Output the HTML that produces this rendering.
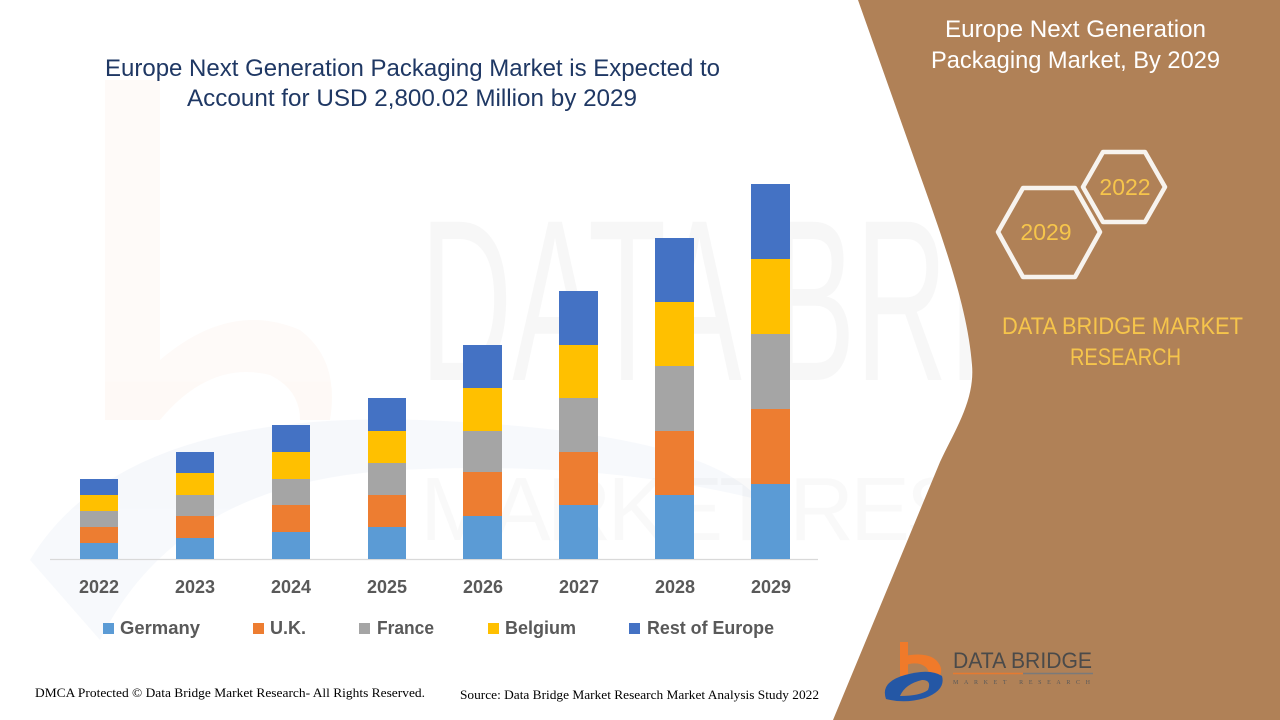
<!DOCTYPE html>
<html>
<head>
<meta charset="utf-8">
<style>
html,body{margin:0;padding:0;background:#fff;}
svg{display:block;}
</style>
</head>
<body>
<svg width="1280" height="720" viewBox="0 0 1280 720" xmlns="http://www.w3.org/2000/svg">
  <rect x="0" y="0" width="1280" height="720" fill="#ffffff"/>

  <!-- faint watermark -->
  <g opacity="0.035">
    <path d="M105 80 L160 80 L160 360 Q230 300 300 330 Q340 360 330 420 L300 420 Q300 390 270 375 Q210 360 160 420 L105 420 Z" fill="#ED7D31"/>
    <path d="M30 560 Q120 410 420 420 Q700 430 760 500 Q600 460 400 470 Q180 480 100 640 Z" fill="#2457A5"/>
  </g>
  <text x="420" y="380" font-family="Liberation Sans, sans-serif" font-size="230" fill="#000" opacity="0.028" textLength="840" lengthAdjust="spacingAndGlyphs">DATA BRIDGE</text>
  <text x="420" y="540" font-family="Liberation Sans, sans-serif" font-size="90" fill="#000" opacity="0.02" textLength="840" lengthAdjust="spacing">MARKET RESEARCH</text>

  <!-- brown panel -->
  <path d="M858,0 L920,175 C945,245 968,310 972,365 C975,400 955,430 940,462 L833,720 L1280,720 L1280,0 Z" fill="#B08157"/>

  <!-- main title -->
  <g font-family="Liberation Sans, sans-serif" fill="#1F3864" font-size="24">
    <text x="105" y="76" textLength="615" lengthAdjust="spacingAndGlyphs">Europe Next Generation Packaging Market is Expected to</text>
    <text x="187" y="106" textLength="450" lengthAdjust="spacingAndGlyphs">Account for USD 2,800.02 Million by 2029</text>
  </g>

  <!-- axis line -->
  <line x1="50" y1="559.5" x2="818" y2="559.5" stroke="#D9D9D9" stroke-width="1.2"/>

  <!-- bars -->
  <g>
    <rect x="80" y="543" width="38" height="16" fill="#5B9BD5"/>
    <rect x="80" y="527" width="38" height="16" fill="#ED7D31"/>
    <rect x="80" y="511" width="38" height="16" fill="#A5A5A5"/>
    <rect x="80" y="495" width="38" height="16" fill="#FFC000"/>
    <rect x="80" y="479" width="38" height="16" fill="#4472C4"/>

    <rect x="176" y="538" width="38" height="21" fill="#5B9BD5"/>
    <rect x="176" y="516" width="38" height="22" fill="#ED7D31"/>
    <rect x="176" y="495" width="38" height="21" fill="#A5A5A5"/>
    <rect x="176" y="473" width="38" height="22" fill="#FFC000"/>
    <rect x="176" y="452" width="38" height="21" fill="#4472C4"/>

    <rect x="272" y="532" width="38" height="27" fill="#5B9BD5"/>
    <rect x="272" y="505" width="38" height="27" fill="#ED7D31"/>
    <rect x="272" y="479" width="38" height="26" fill="#A5A5A5"/>
    <rect x="272" y="452" width="38" height="27" fill="#FFC000"/>
    <rect x="272" y="425" width="38" height="27" fill="#4472C4"/>

    <rect x="368" y="527" width="38" height="32" fill="#5B9BD5"/>
    <rect x="368" y="495" width="38" height="32" fill="#ED7D31"/>
    <rect x="368" y="463" width="38" height="32" fill="#A5A5A5"/>
    <rect x="368" y="431" width="38" height="32" fill="#FFC000"/>
    <rect x="368" y="398" width="38" height="33" fill="#4472C4"/>

    <rect x="463" y="516" width="39" height="43" fill="#5B9BD5"/>
    <rect x="463" y="472" width="39" height="44" fill="#ED7D31"/>
    <rect x="463" y="431" width="39" height="41" fill="#A5A5A5"/>
    <rect x="463" y="388" width="39" height="43" fill="#FFC000"/>
    <rect x="463" y="345" width="39" height="43" fill="#4472C4"/>

    <rect x="559" y="505" width="39" height="54" fill="#5B9BD5"/>
    <rect x="559" y="452" width="39" height="53" fill="#ED7D31"/>
    <rect x="559" y="398" width="39" height="54" fill="#A5A5A5"/>
    <rect x="559" y="345" width="39" height="53" fill="#FFC000"/>
    <rect x="559" y="291" width="39" height="54" fill="#4472C4"/>

    <rect x="655" y="495" width="39" height="64" fill="#5B9BD5"/>
    <rect x="655" y="431" width="39" height="64" fill="#ED7D31"/>
    <rect x="655" y="366" width="39" height="65" fill="#A5A5A5"/>
    <rect x="655" y="302" width="39" height="64" fill="#FFC000"/>
    <rect x="655" y="238" width="39" height="64" fill="#4472C4"/>

    <rect x="751" y="484" width="39" height="75" fill="#5B9BD5"/>
    <rect x="751" y="409" width="39" height="75" fill="#ED7D31"/>
    <rect x="751" y="334" width="39" height="75" fill="#A5A5A5"/>
    <rect x="751" y="259" width="39" height="75" fill="#FFC000"/>
    <rect x="751" y="184" width="39" height="75" fill="#4472C4"/>
  </g>

  <!-- year labels -->
  <g font-family="Liberation Sans, sans-serif" font-weight="bold" font-size="18" fill="#595959" text-anchor="middle">
    <text x="99" y="593">2022</text>
    <text x="195" y="593">2023</text>
    <text x="291" y="593">2024</text>
    <text x="387" y="593">2025</text>
    <text x="483" y="593">2026</text>
    <text x="579" y="593">2027</text>
    <text x="675" y="593">2028</text>
    <text x="771" y="593">2029</text>
  </g>

  <!-- legend -->
  <g font-family="Liberation Sans, sans-serif" font-weight="bold" font-size="18" fill="#595959">
    <rect x="103" y="623" width="11" height="11" fill="#5B9BD5"/>
    <text x="120" y="634" textLength="80" lengthAdjust="spacingAndGlyphs">Germany</text>
    <rect x="253" y="623" width="11" height="11" fill="#ED7D31"/>
    <text x="270" y="634" textLength="36" lengthAdjust="spacingAndGlyphs">U.K.</text>
    <rect x="359" y="623" width="11" height="11" fill="#A5A5A5"/>
    <text x="377" y="634" textLength="57" lengthAdjust="spacingAndGlyphs">France</text>
    <rect x="488" y="623" width="11" height="11" fill="#FFC000"/>
    <text x="505" y="634" textLength="71" lengthAdjust="spacingAndGlyphs">Belgium</text>
    <rect x="629" y="623" width="11" height="11" fill="#4472C4"/>
    <text x="647" y="634" textLength="127" lengthAdjust="spacingAndGlyphs">Rest of Europe</text>
  </g>

  <!-- footer -->
  <g font-family="Liberation Serif, serif" font-size="13" fill="#000">
    <text x="35" y="697" textLength="390" lengthAdjust="spacingAndGlyphs">DMCA Protected © Data Bridge Market Research- All Rights Reserved.</text>
    <text x="460" y="699" textLength="359" lengthAdjust="spacingAndGlyphs">Source: Data Bridge Market Research Market Analysis Study 2022</text>
  </g>

  <!-- right panel text -->
  <g font-family="Liberation Sans, sans-serif" font-size="24" fill="#ffffff">
    <text x="945" y="37" textLength="261" lengthAdjust="spacingAndGlyphs">Europe Next Generation</text>
    <text x="931" y="68" textLength="289" lengthAdjust="spacingAndGlyphs">Packaging Market, By 2029</text>
  </g>

  <!-- hexagons -->
  <g fill="none" stroke="#F7F3EE" stroke-width="4.5" stroke-linejoin="round">
    <polygon points="998,232 1023,188 1075,188 1100,232 1075,277 1023,277"/>
    <polygon points="1083,187 1103,152 1145,152 1165,187 1145,222 1103,222"/>
  </g>
  <g font-family="Liberation Sans, sans-serif" font-size="23" fill="#F6C54B" text-anchor="middle">
    <text x="1046" y="240">2029</text>
    <text x="1125" y="195">2022</text>
  </g>

  <g font-family="Liberation Sans, sans-serif" font-size="24" fill="#F6C54B">
    <text x="1002" y="334" textLength="241" lengthAdjust="spacingAndGlyphs">DATA BRIDGE MARKET</text>
    <text x="1070" y="365" textLength="111" lengthAdjust="spacingAndGlyphs">RESEARCH</text>
  </g>

  <!-- bottom logo -->
  <g>
    <rect x="900" y="642" width="8" height="34" fill="#F07A2A"/>
    <path d="M904,656 Q935,650 941,668 Q942,676 936,680 L928,680 Q932,668 920,664 Q912,662 904,666 Z" fill="#F07A2A"/>
    <path d="M886,699 Q880,682 905,675 Q930,668 942,676 Q946,690 925,698 Q905,704 886,699 Z" fill="#2457A5"/>
    <path d="M900,696 Q905,684 922,680 Q932,680 928,690 Q920,696 900,696 Z" fill="#B08157"/>
    <text x="953" y="668" font-family="Liberation Sans, sans-serif" font-size="22" fill="#4A4A4A" textLength="139" lengthAdjust="spacingAndGlyphs">DATA BRIDGE</text>
    <line x1="953" y1="673.5" x2="1023" y2="673.5" stroke="#E57A30" stroke-width="1.5"/>
    <line x1="1023" y1="673.5" x2="1093" y2="673.5" stroke="#7A7A7A" stroke-width="1.5"/>
    <text x="953" y="684" font-family="Liberation Serif, serif" font-size="6" fill="#5A5A5A" textLength="137" lengthAdjust="spacing">MARKET RESEARCH</text>
  </g>
</svg>
</body>
</html>
